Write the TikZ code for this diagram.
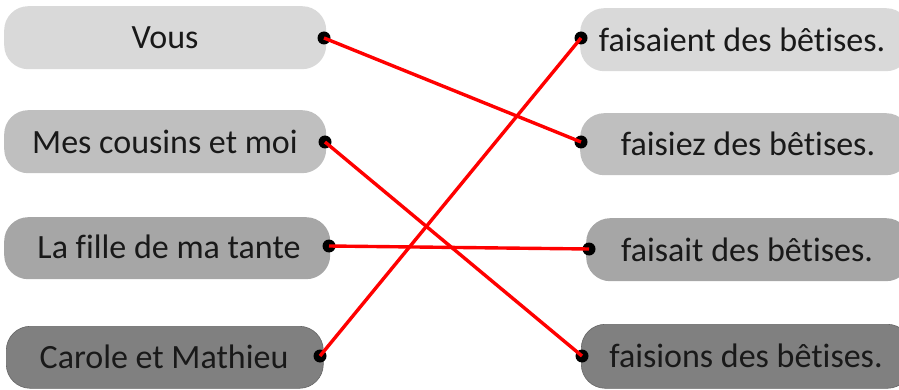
\documentclass[tikz,border=0pt]{standalone}
\usepackage{fontspec}
\setmainfont{Carlito}[Ligatures={NoCommon}]
\begin{document}
\begin{tikzpicture}[x=1pt,y=-1pt,
  box/.style={rounded corners=24pt, inner sep=0pt, anchor=north west},
  lbl/.style={font=\fontsize{34}{40}\selectfont, text=black!90, inner sep=0pt},
  dot/.style={circle, fill=black, inner sep=0pt, minimum size=13pt},
  link/.style={red, line width=3.4pt}]
\useasboundingbox (0,0) rectangle (899,390);
% left boxes
\node[box, fill=gray!30, minimum width=322pt, minimum height=63pt] (L1) at (4,6) {};
\node[box, fill=gray!50, minimum width=322pt, minimum height=63pt] (L2) at (4,110) {};
\node[box, fill=gray!70, minimum width=326pt, minimum height=62pt] (L3) at (4,217) {};
\node[box, fill=gray!100, draw=black!60, line width=0.6pt, minimum width=317pt, minimum height=62pt] (L4) at (6,326) {};
% right boxes
\node[box, fill=gray!30, minimum width=330pt, minimum height=63pt] (R1) at (580,8) {};
\node[box, fill=gray!50, minimum width=330pt, minimum height=62pt] (R2) at (580,113) {};
\node[box, fill=gray!70, minimum width=324pt, minimum height=63pt] (R3) at (586,218) {};
\node[box, fill=gray!100, draw=black!60, line width=0.6pt, minimum width=330pt, minimum height=64pt] (R4) at (581,324) {};
% texts
\node[lbl] (tL1) at (165,38) {Vous};
\node[lbl] (tL2) at (165,142) {Mes cousins et moi};
\node[lbl] (tL3) at (169,247) {La fille de ma tante};
\node[lbl] (tL4) at (164,357) {Carole et Mathieu};
\node[lbl] (tR1) at (742,40) {faisaient des bêtises.};
\node[lbl] (tR2) at (748,144) {faisiez des bêtises.};
\node[lbl] (tR3) at (747,250) {faisait des bêtises.};
\node[lbl] (tR4) at (746,356) {faisions des bêtises.};
% dots
\node[dot] (dL1) at (324,38) {};
\node[dot] (dL2) at (325,142) {};
\node[dot] (dL3) at (329,246) {};
\node[dot] (dL4) at (320,356) {};
\node[dot] (dR1) at (581,38) {};
\node[dot] (dR2) at (581,142) {};
\node[dot] (dR3) at (589,249) {};
\node[dot] (dR4) at (582,356) {};
% links
\draw[link] (dL1.center) -- (dR2.center);
\draw[link] (dL2.center) -- (dR4.center);
\draw[link] (dL3.center) -- (dR3.center);
\draw[link] (dL4.center) -- (dR1.center);
\end{tikzpicture}
\end{document}
